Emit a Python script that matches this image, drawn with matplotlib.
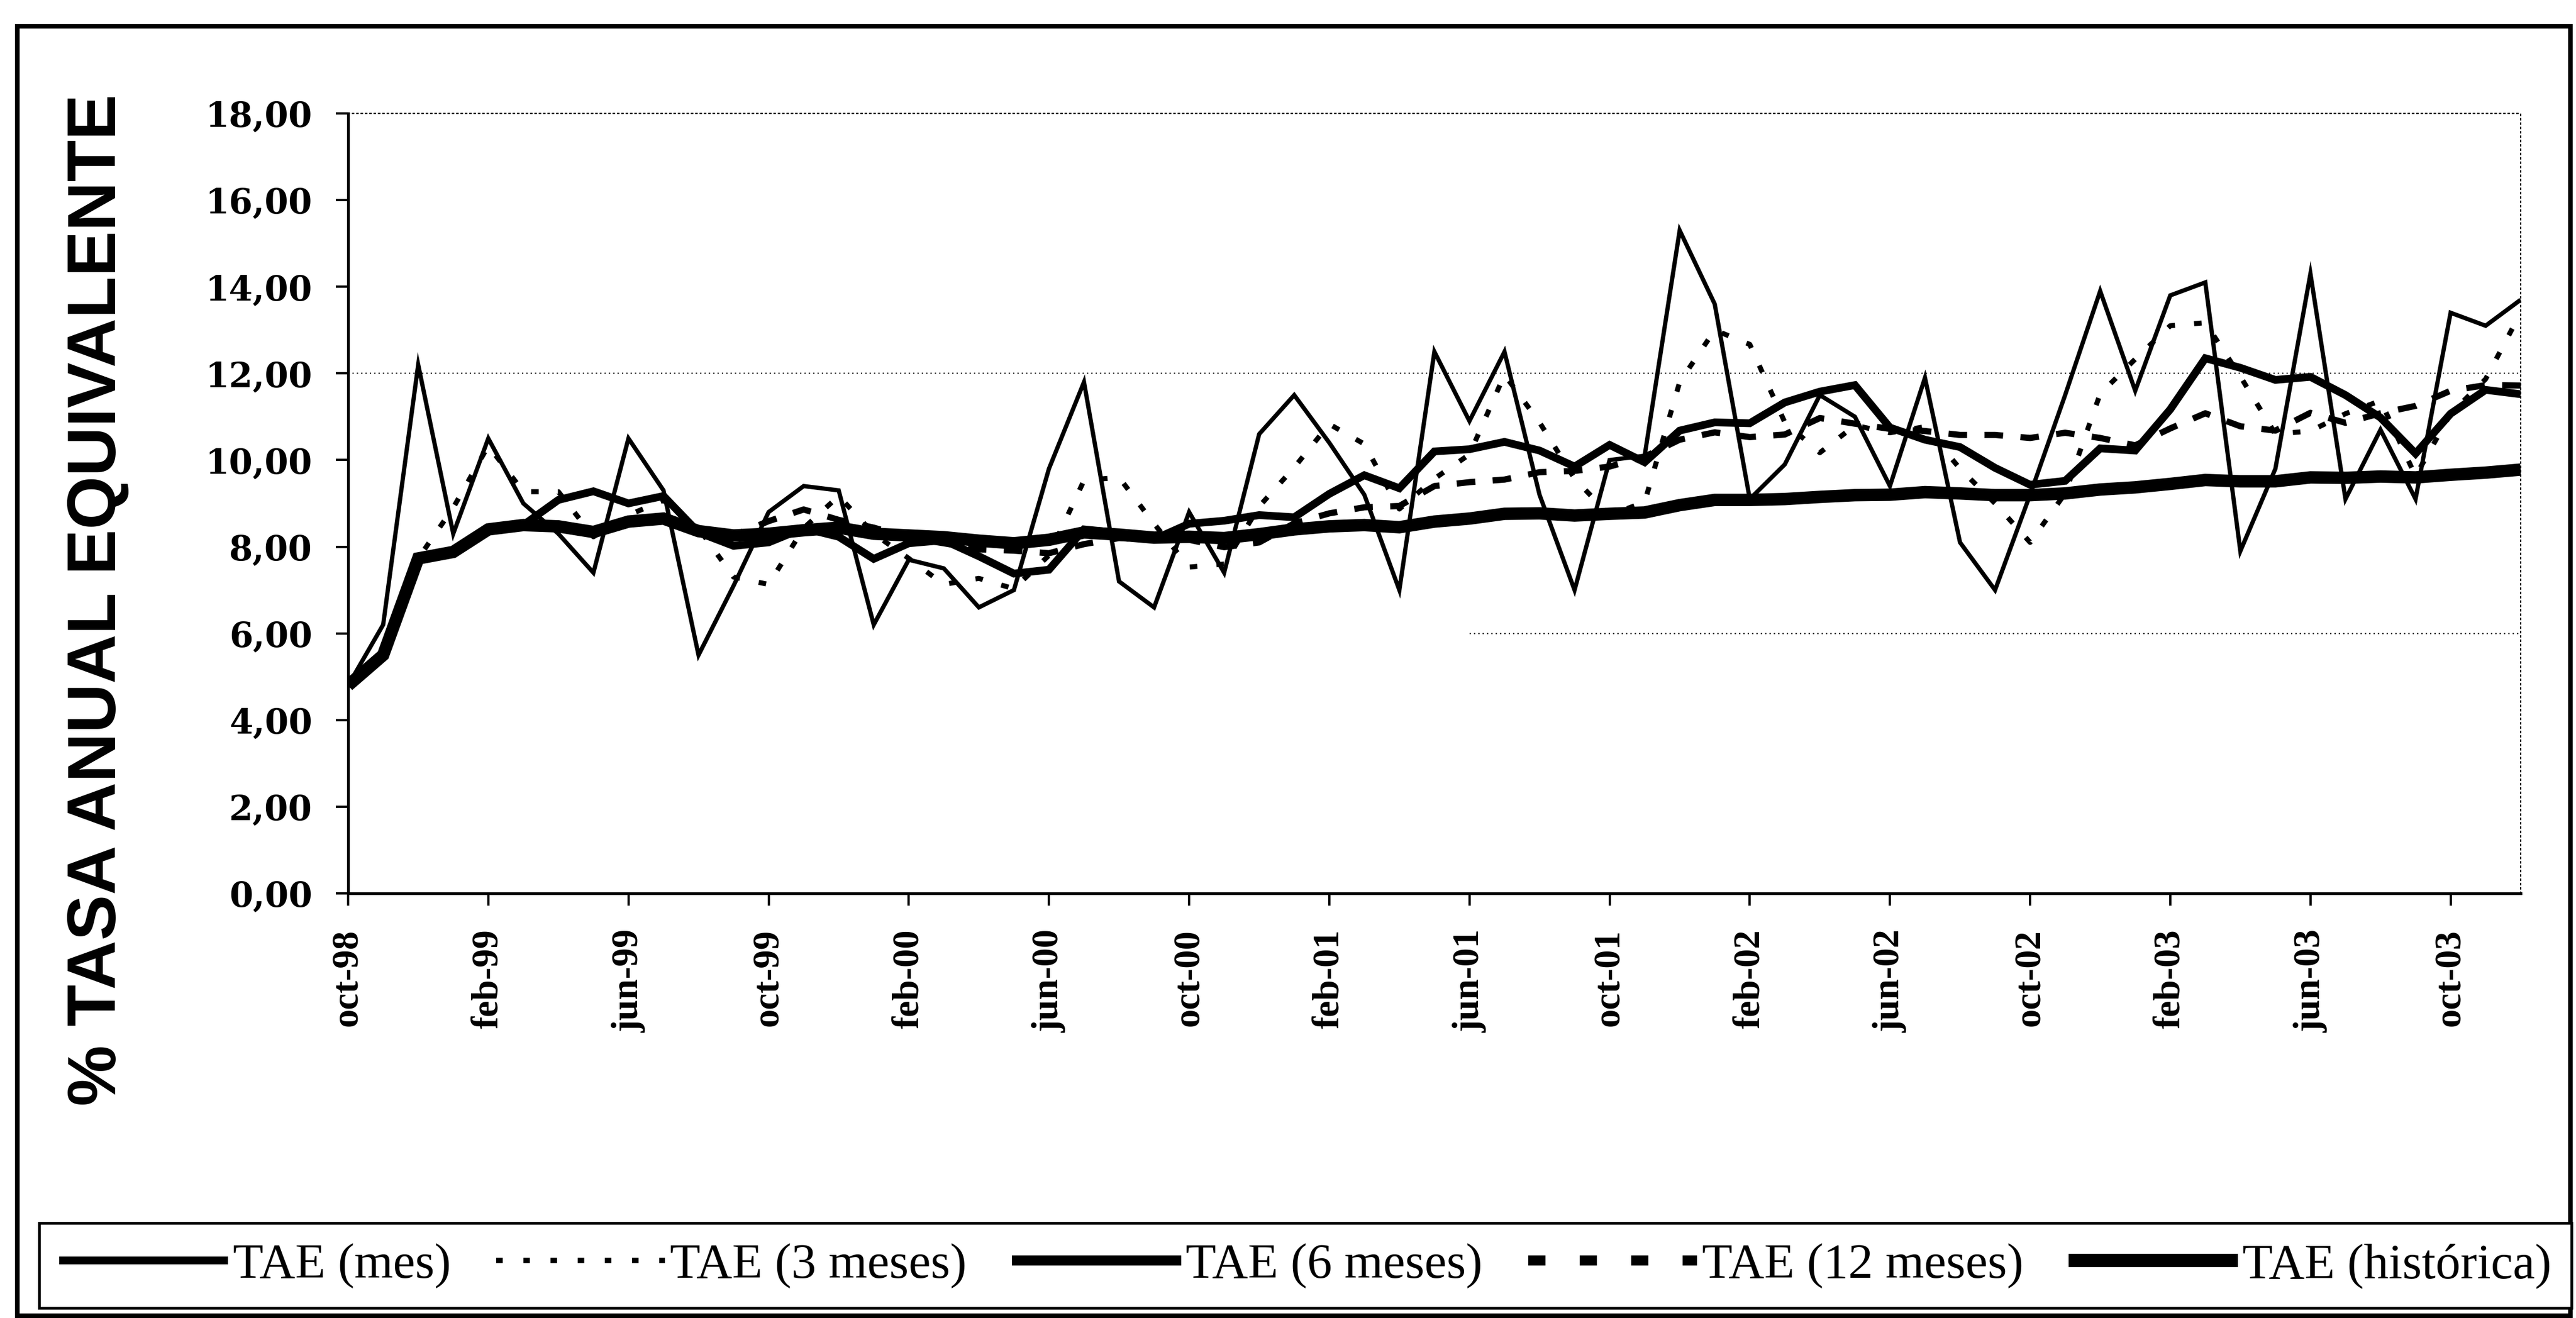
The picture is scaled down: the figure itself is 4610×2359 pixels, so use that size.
import matplotlib

matplotlib.use("Agg")
import matplotlib.pyplot as plt
from matplotlib.lines import Line2D
from matplotlib.patches import Rectangle

# monthly values, oct-98 .. dec-03
TAE_MES = [4.8, 6.2, 12.2, 8.3, 10.5, 9.0, 8.3, 7.4, 10.5, 9.3,
           5.5, 7.1, 8.8, 9.4, 9.3, 6.2, 7.7, 7.5, 6.6, 7.0,
           9.8, 11.8, 7.2, 6.6, 8.8, 7.4, 10.6, 11.5, 10.4, 9.2,
           7.0, 12.5, 10.9, 12.5, 9.2, 7.0, 10.0, 10.1, 15.3, 13.6,
           9.1, 9.9, 11.5, 11.0, 9.4, 11.9, 8.1, 7.0, 9.2, 11.5,
           13.9, 11.6, 13.8, 14.1, 7.9, 9.8, 14.3, 9.1, 10.7, 9.1,
           13.4, 13.1, 13.7]

TAE_3M = [4.8, 5.5, 7.73, 8.9, 10.33, 9.27, 9.27, 8.23, 8.73, 9.07,
          8.43, 7.3, 7.13, 8.43, 9.17, 8.3, 7.73, 7.13, 7.27, 7.03,
          7.8, 9.53, 9.6, 8.53, 7.53, 7.6, 8.93, 9.83, 10.83, 10.37,
          8.87, 9.57, 10.13, 11.97, 10.87, 9.57, 8.73, 9.03, 11.8, 13.0,
          12.67, 10.87, 10.17, 10.8, 10.63, 10.77, 9.8, 9.0, 8.1, 9.23,
          11.53, 12.33, 13.1, 13.17, 11.93, 10.6, 10.67, 11.07, 11.37, 9.63,
          11.07, 11.87, 13.4]

TAE_6M = [4.8, 5.5, 7.73, 7.88, 8.4, 8.5, 9.08, 9.28, 9.0, 9.17,
          8.33, 8.02, 8.1, 8.43, 8.23, 7.72, 8.08, 8.15, 7.78, 7.38,
          7.47, 8.4, 8.32, 8.17, 8.53, 8.6, 8.73, 8.68, 9.22, 9.65,
          9.35, 10.2, 10.25, 10.42, 10.22, 9.85, 10.35, 9.95, 10.68, 10.87,
          10.85, 11.33, 11.58, 11.73, 10.75, 10.47, 10.3, 9.82, 9.43, 9.52,
          10.27, 10.22, 11.17, 12.35, 12.13, 11.85, 11.92, 11.5, 10.98, 10.15,
          11.07, 11.62, 11.52]

TAE_12M = [4.8, 5.5, 7.73, 7.88, 8.4, 8.5, 8.47, 8.34, 8.58, 8.65,
           8.36, 8.26, 8.59, 8.86, 8.62, 8.44, 8.21, 8.08, 7.94, 7.91,
           7.85, 8.06, 8.2, 8.16, 8.16, 7.99, 8.1, 8.54, 8.77, 8.91,
           8.94, 9.4, 9.49, 9.55, 9.72, 9.75, 9.85, 10.08, 10.47, 10.64,
           10.53, 10.59, 10.97, 10.84, 10.72, 10.67, 10.58, 10.58, 10.51, 10.63,
           10.51, 10.34, 10.73, 11.08, 10.78, 10.68, 11.09, 10.86, 11.08, 11.25,
           11.6, 11.73, 11.72]

TAE_HIST = [4.8, 5.5, 7.73, 7.88, 8.4, 8.5, 8.47, 8.34, 8.58, 8.65,
            8.36, 8.26, 8.3, 8.38, 8.44, 8.3, 8.26, 8.22, 8.14, 8.08,
            8.16, 8.33, 8.28, 8.21, 8.23, 8.2, 8.29, 8.4, 8.47, 8.5,
            8.45, 8.58, 8.65, 8.76, 8.77, 8.72, 8.76, 8.79, 8.96, 9.08,
            9.08, 9.1, 9.15, 9.19, 9.2, 9.26, 9.23, 9.19, 9.19, 9.23,
            9.32, 9.37, 9.45, 9.54, 9.51, 9.51, 9.6, 9.59, 9.62, 9.6,
            9.66, 9.71, 9.78]

TICK_LABELS = ["oct-98", "feb-99", "jun-99", "oct-99", "feb-00", "jun-00",
               "oct-00", "feb-01", "jun-01", "oct-01", "feb-02", "jun-02",
               "oct-02", "feb-03", "jun-03", "oct-03"]

Y_TICKS = [0, 2, 4, 6, 8, 10, 12, 14, 16, 18]

LEGEND_LABELS = ["TAE (mes)", "TAE (3 meses)", "TAE (6 meses)",
                 "TAE (12 meses)", "TAE (histórica)"]

W, H = 4610, 2359

# plot styles, then the heavier versions the scanned legend shows
STYLES = [
    dict(lw=5.5, ls="-"),
    dict(lw=6.5, ls=(0, (1.5, 3.8))),
    dict(lw=10, ls="-"),
    dict(lw=8, ls=(0, (3.0, 2.8))),
    dict(lw=16, ls="-"),
]
LEGEND_STYLES = [
    dict(lw=10, ls="-"),
    dict(lw=7, ls=(0, (1.2, 3.8))),
    dict(lw=13, ls="-"),
    dict(lw=13, ls=(0, (1.7, 3.4))),
    dict(lw=17, ls="-"),
]


def main():
    fig = plt.figure(figsize=(W / 100, H / 100), dpi=100)
    fig.patch.set_facecolor("white")

    ax = fig.add_axes([623 / W, 1 - 1599 / H, (4511 - 623) / W, (1599 - 203) / H])

    x = list(range(len(TAE_MES)))
    series = [TAE_MES, TAE_3M, TAE_6M, TAE_12M, TAE_HIST]
    zorders = [6, 5, 4, 3, 2]
    for values, style, z in zip(series, STYLES, zorders):
        ax.plot(x, values, color="black", linewidth=style["lw"],
                linestyle=style["ls"], solid_joinstyle="miter",
                solid_capstyle="butt", zorder=z)

    ax.set_xlim(0, len(x) - 1)
    ax.set_ylim(0, 18)

    # dotted gridlines (only 6 and 12 survive in the scan)
    ax.axhline(12, color="black", lw=1.6, ls=(0, (1, 2.5)), zorder=1)
    ax.hlines(6, 32, len(x) - 1, color="black", lw=1.6, ls=(0, (1, 2.5)), zorder=1)

    for side in ["left", "bottom"]:
        ax.spines[side].set_linewidth(3.5)
    for side in ["top", "right"]:
        ax.spines[side].set_linewidth(1.6)
        ax.spines[side].set_linestyle((0, (1, 2.5)))

    ytick_font = {"family": "DejaVu Serif", "weight": "bold", "size": 44}
    xtick_font = {"family": "Liberation Serif", "weight": "bold", "size": 48}
    ax.set_yticks(Y_TICKS)
    ax.set_yticklabels([f"{v},00" for v in Y_TICKS], fontdict=ytick_font)
    ax.set_xticks(range(0, 4 * len(TICK_LABELS), 4))
    ax.set_xticklabels(TICK_LABELS, fontdict=xtick_font, rotation=90)
    ax.tick_params(axis="y", direction="out", length=16, width=3, pad=30)
    ax.tick_params(axis="x", direction="out", length=16, width=3, pad=30)

    fig.text(0.038, 0.545, "% TASA ANUAL EQUIVALENTE", rotation=90,
             fontsize=88, fontweight="bold", family="Liberation Sans",
             ha="center", va="center")

    handles = [Line2D([], [], color="black", linewidth=s["lw"], linestyle=s["ls"],
                      solid_capstyle="butt") for s in LEGEND_STYLES]
    leg = fig.legend(handles, LEGEND_LABELS, loc="center",
                     bbox_to_anchor=(70 / W, (H - 2355) / H, (4602 - 70) / W, 180 / H),
                     mode="expand", ncol=5,
                     prop={"family": "Liberation Serif", "size": 64},
                     handlelength=3.4, handletextpad=0.1, columnspacing=0.3,
                     borderpad=0.4, borderaxespad=0, frameon=True,
                     fancybox=False, edgecolor="black", framealpha=1)
    leg.get_frame().set_linewidth(3.5)

    fig.add_artist(Rectangle((31 / W, 4 / H), (4600 - 31) / W, (2355 - 47) / H,
                             fill=False, lw=6, edgecolor="black",
                             transform=fig.transFigure))

    fig.savefig("out.png", dpi=100)


if __name__ == "__main__":
    main()
